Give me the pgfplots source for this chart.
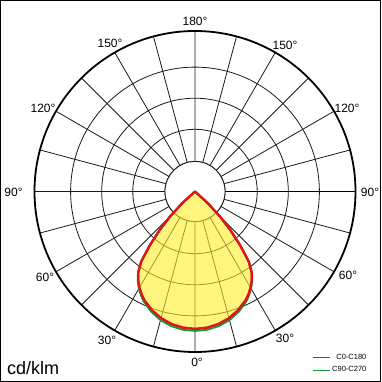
\documentclass[border=0pt]{standalone}
\usepackage{pgfplots}
\pgfplotsset{compat=1.18}
\usepgfplotslibrary{polar}
\usepackage{pgfplotstable}
\usepackage{fontspec}
\setmainfont{Liberation Sans}
\definecolor{cred}{RGB}{225,20,25}
\definecolor{cgreen}{RGB}{20,150,60}
\definecolor{cfill}{RGB}{255,238,40}
% angle (polar, 0 = right, ccw) and intensity (px units, outer ring = 160)
\pgfplotstableread{
phi r
220 0
222.5 17
225 35
227.5 52
230 70
232.5 88
235 98.5
237.5 105.3
240 110.8
242.5 115.5
245 119.5
250 125.8
255 130.8
260 134.2
265 136.3
270 137
275 136.3
280 134.2
285 130.8
290 125.8
295 119.5
297.5 115.5
300 110.8
302.5 105.3
305 98.5
307.5 88
310 70
312.5 52
315 35
317.5 17
320 0
}\redtab
\pgfplotstableread{
phi r
220 0
222.5 17.4
225 35.6
227.5 52.6
230 70.6
232.5 88.6
235 99.2
237.5 106.2
240 111.9
242.5 116.8
245 121
250 127.6
255 132.8
260 136.3
265 138.4
270 139
275 138.4
280 136.3
285 132.8
290 127.6
295 121
297.5 116.8
300 111.9
302.5 106.2
305 99.2
307.5 88.6
310 70.6
312.5 52.6
315 35.6
317.5 17.4
320 0
}\greentab
\begin{document}
\begin{tikzpicture}
\path[use as bounding box] (0,0) rectangle (381pt,382pt);
\draw[line width=1.4pt] (0.7pt,0.7pt) rectangle (380.3pt,381.3pt);
\begin{polaraxis}[
  at={(195pt,190.5pt)}, anchor=center,
  scale only axis, width=321pt, height=321pt,
  ymin=0, ymax=160,
  xtick={0,15,...,345}, ytick={30,62,93,124},
  xticklabels={}, yticklabels={},
  major tick length=0pt,
  grid=major,
  major grid style={black!90, line width=0.8pt},
  axis line style={black, line width=1.8pt},
  legend style={draw=none, fill=none, font=\fontsize{7.5}{9}\selectfont,
    at={(axis description cs:1.05,-0.08)}, anchor=south east,
    cells={anchor=east}, row sep=2pt},
  legend image code/.code={\draw[#1, line width=0.7pt] (0pt,0pt) -- (17pt,0pt);},
]
\draw[black!90, line width=0.8pt, fill=white] (axis cs:0,0) circle[radius=30pt];
\addplot[draw=none, fill=cfill, fill opacity=0.6, forget plot] table[x=phi, y=r] {\redtab} -- cycle;
\addplot[cred, line width=2.2pt, line join=round] table[x=phi, y=r] {\redtab};
\addlegendentry{C0-C180}
\addplot[cgreen, line width=1.8pt, line join=round] table[x=phi, y=r] {\greentab};
\addlegendentry{C90-C270}
\addplot[cred, line width=2.2pt, line join=round, forget plot] table[x=phi, y=r] {\redtab};
\end{polaraxis}
\begin{scope}[every node/.style={font=\fontsize{12}{14}\selectfont, inner sep=0pt}]
\node at (195pt,361pt) {180°};
\node at (110pt,339pt) {150°};
\node at (285pt,337pt) {150°};
\node at (43pt,274pt) {120°};
\node at (347pt,274pt) {120°};
\node at (13.5pt,190pt) {90°};
\node at (370pt,190pt) {90°};
\node at (45pt,105pt) {60°};
\node at (348pt,107pt) {60°};
\node at (107pt,42pt) {30°};
\node at (285pt,44pt) {30°};
\node at (197pt,20pt) {0°};
\end{scope}
\node[anchor=base west, inner sep=0pt, font=\fontsize{18}{20}\selectfont] at (7pt,7pt) {cd/klm};
\end{tikzpicture}
\end{document}
